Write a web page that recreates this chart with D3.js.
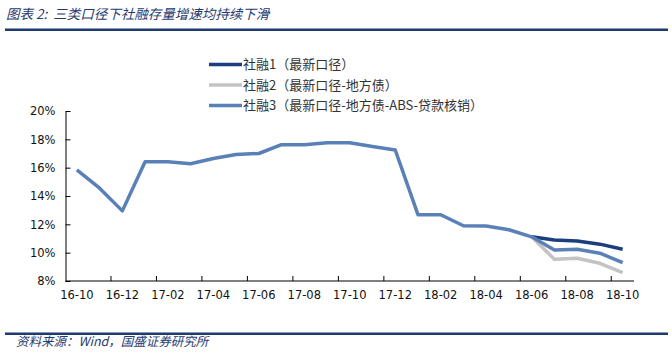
<!DOCTYPE html>
<meta charset="utf-8">
<style>
  body { margin: 0; background: #fff; }
  svg text { font-family: "DejaVu Sans", sans-serif; }
  .cjk { font-family: "Noto Sans CJK SC", sans-serif; }
</style>
<div id="chart"></div>
<script src="https://d3js.org/d3.v7.min.js"></script>
<script>
    var months = ["16-10","16-11","16-12","17-01","17-02","17-03","17-04","17-05","17-06","17-07","17-08","17-09","17-10",
                  "17-11","17-12","18-01","18-02","18-03","18-04","18-05","18-06","18-07","18-08","18-09","18-10"];
    // 社融3 covers the whole range, 社融1/2 only split off from 18-06
    var tsf3 = [15.84,14.55,12.95,16.42,16.42,16.28,16.65,16.93,17.0,17.62,17.62,17.76,17.76,
                17.5,17.25,12.68,12.68,11.9,11.88,11.62,11.12,10.19,10.24,9.96,9.3];
    var tsf1 = [null,null,null,null,null,null,null,null,null,null,null,null,null,
                null,null,null,null,null,null,null,11.12,10.9,10.83,10.6,10.24];
    var tsf2 = [null,null,null,null,null,null,null,null,null,null,null,null,null,
                null,null,null,null,null,null,null,11.12,9.53,9.6,9.25,8.59];
    var yTicks = [8,10,12,14,16,18,20];
    var names = ["社融1（最新口径）","社融2（最新口径-地方债）","社融3（最新口径-地方债-ABS-贷款核销）"];
    var colors = ["#1b3f7e","#c3c3c3","#5a80b8"];

    var W = 672, H = 355;
    var svg = d3.select("#chart").append("svg").attr("width", W).attr("height", H);

    // title + rules
    svg.append("text").attr("class","cjk").attr("x", 6).attr("y", 19)
        .style("font-size","13.5px").style("font-style","italic").attr("fill","#1f3a6e")
        .attr("xml:space","preserve")
        .text("图表 2:  三类口径下社融存量增速均持续下滑");
    svg.append("rect").attr("x",5).attr("y",28.5).attr("width",663).attr("height",2.5).attr("fill","#1f3a6e");
    svg.append("rect").attr("x",5).attr("y",332.5).attr("width",663).attr("height",2.5).attr("fill","#1f3a6e");
    svg.append("text").attr("class","cjk").attr("x", 16).attr("y", 346)
        .style("font-size","12.5px").style("font-style","italic").attr("fill","#1f3a6e")
        .text("资料来源：Wind，国盛证券研究所");

    var x = d3.scaleBand().domain(months).range([65.5, 634]);
    var y = d3.scaleLinear().domain([8, 20]).range([281, 111]);
    var cx = function(i) { return x(months[i]) + x.bandwidth() / 2; };

    // y axis
    var ya = svg.append("g").attr("transform","translate(65.5,0)")
        .call(d3.axisLeft(y).tickValues(yTicks).tickSizeInner(-5).tickSizeOuter(0).tickPadding(10)
            .tickFormat(function(d) { return d + "%"; }));
    ya.select(".domain").attr("stroke","#000");
    ya.selectAll("text").style("font-size","11.5px").attr("fill","#111");

    // x axis: labels on every other month, ticks on band edges
    var xa = svg.append("g").attr("transform","translate(0,281)")
        .call(d3.axisBottom(x).tickValues(months.filter(function(d, i) { return i % 2 == 0; }))
            .tickSize(0).tickPadding(10));
    xa.select(".domain").attr("stroke","#000").attr("d","M65.5,0H634");
    xa.selectAll("text").style("font-size","11.5px").attr("fill","#111");
    xa.selectAll(".edge")
        .data(months.filter(function(d, i) { return i % 2 == 0 && i > 0; }))
        .enter().append("line")
        .attr("x1", function(d) { return x(d); }).attr("x2", function(d) { return x(d); })
        .attr("y1", 0).attr("y2", -5).attr("stroke","#000");

    var line = d3.line()
        .defined(function(d) { return d != null; })
        .x(function(d, i) { return cx(i); })
        .y(function(d) { return y(d); });

    [tsf2, tsf1, tsf3].forEach(function(s, k) {
        var c = [colors[1], colors[0], colors[2]][k];
        svg.append("path").datum(s).attr("d", line)
            .attr("fill","none").attr("stroke", c).attr("stroke-width", 3.5)
            .attr("stroke-linejoin","round");
    });

    // legend
    var lg = svg.append("g");
    names.forEach(function(n, i) {
        var yy = 64.5 + i * 20.5;
        lg.append("line").attr("x1", 209).attr("x2", 242).attr("y1", yy).attr("y2", yy)
            .attr("stroke", colors[i]).attr("stroke-width", 3.5);
        lg.append("text").attr("class","cjk").attr("x", 243).attr("y", yy + 4.5)
            .style("font-size","13px").attr("fill","#333").text(n);
    });
</script>
